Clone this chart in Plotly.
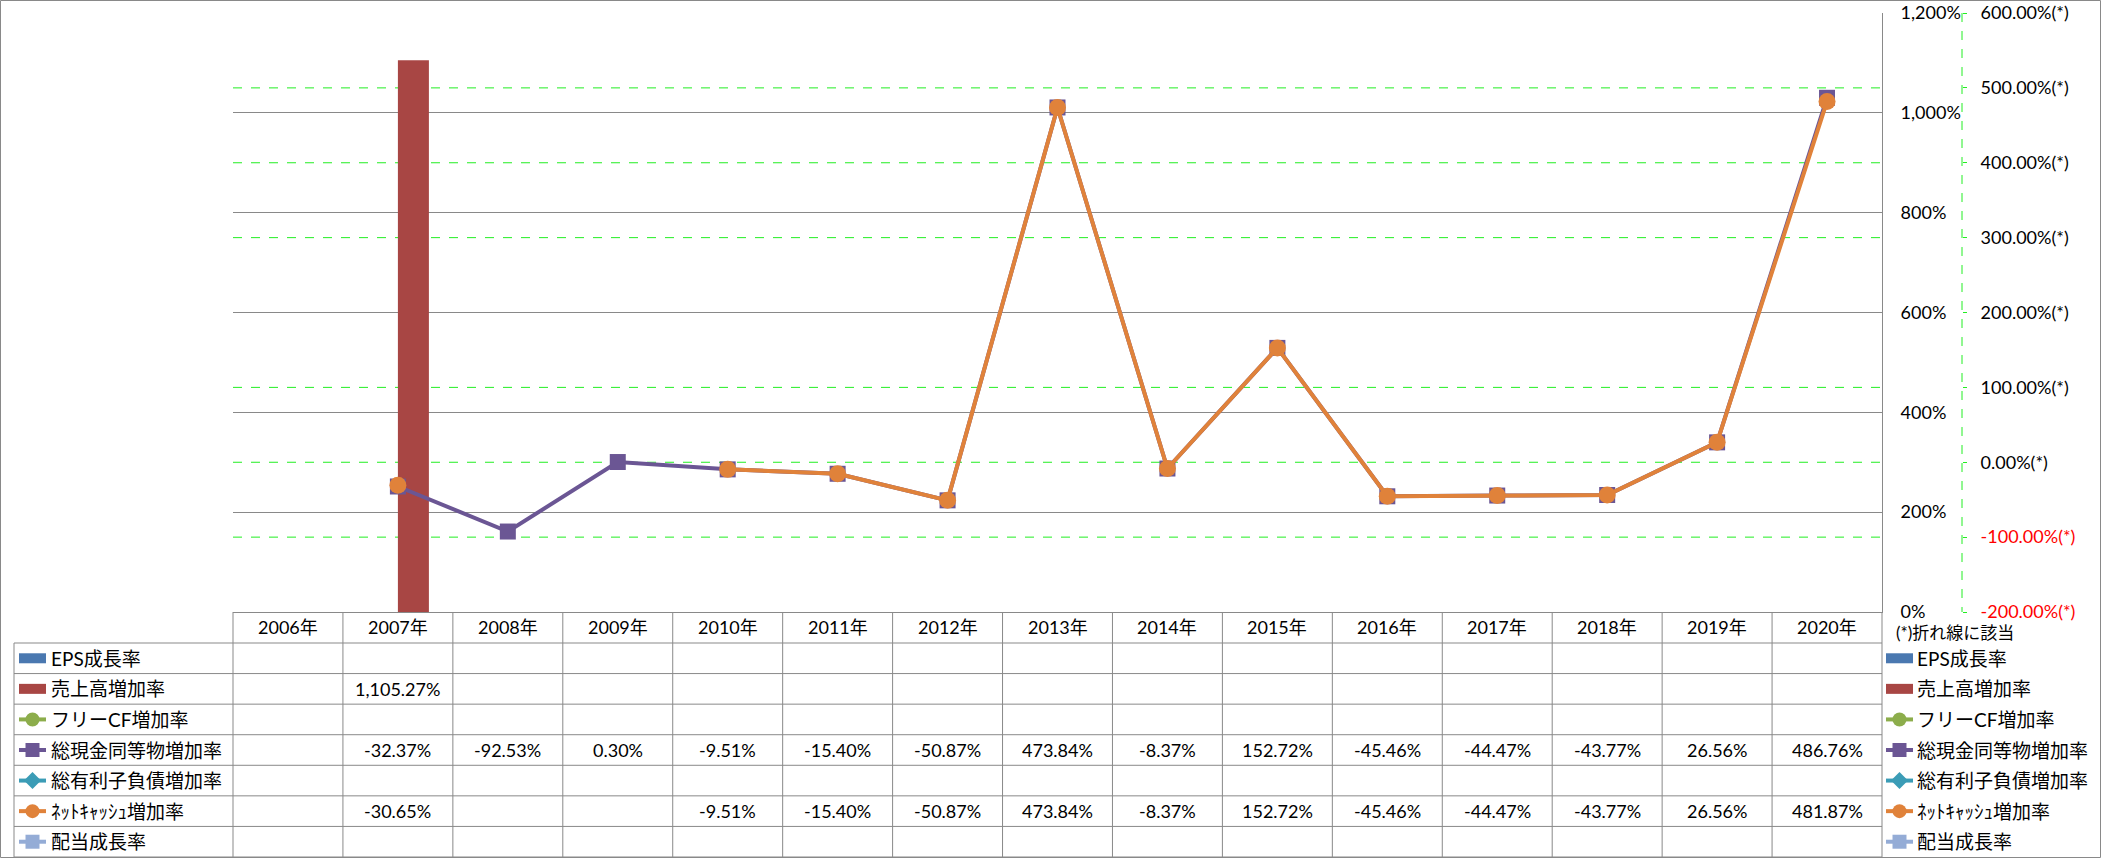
import plotly.graph_objects as go

W, H = 2101, 858

# ---------------- data ----------------
years = ["2006年", "2007年", "2008年", "2009年", "2010年", "2011年", "2012年", "2013年",
         "2014年", "2015年", "2016年", "2017年", "2018年", "2019年", "2020年"]
eps_growth = [None] * 15
sales_growth = [None, 1105.27, None, None, None, None, None, None,
                None, None, None, None, None, None, None]
fcf_growth = [None] * 15
cash_growth = [None, -32.37, -92.53, 0.30, -9.51, -15.40, -50.87, 473.84,
               -8.37, 152.72, -45.46, -44.47, -43.77, 26.56, 486.76]
debt_growth = [None] * 15
netcash_growth = [None, -30.65, None, None, -9.51, -15.40, -50.87, 473.84,
                  -8.37, 152.72, -45.46, -44.47, -43.77, 26.56, 481.87]
div_growth = [None] * 15

series_names = ["EPS成長率", "売上高増加率", "フリーCF増加率", "総現金同等物増加率",
                "総有利子負債増加率", "ﾈｯﾄｷｬｯｼｭ増加率", "配当成長率"]
series_values = [eps_growth, sales_growth, fcf_growth, cash_growth,
                 debt_growth, netcash_growth, div_growth]

y1_tickvals = [0, 200, 400, 600, 800, 1000, 1200]
y1_ticktext = ["0%", "200%", "400%", "600%", "800%", "1,000%", "1,200%"]
y2_tickvals = [-200, -100, 0, 100, 200, 300, 400, 500, 600]
y2_ticktext = ["-200.00%(*)", "-100.00%(*)", "0.00%(*)", "100.00%(*)", "200.00%(*)",
               "300.00%(*)", "400.00%(*)", "500.00%(*)", "600.00%(*)"]
note_text = "(*)折れ線に該当"

# ---------------- styles ----------------
FONT = "Lato, 'Noto Sans CJK JP', sans-serif"
GRAY = "#898989"
GREEN_GRID = "#22EE22"
colors = ["#4A78B0", "#A84644", "#8CAD4B", "#6B5694", "#3B9CB6", "#E0823A", "#94ACD6"]
kinds = ["bar", "bar", "circle", "square", "diamond", "circle", "square"]

def px(x):
    return x / W

def py(y):
    return 1 - y / H

X0, X1 = 233, 1882
Y_TOP, Y_BOT = 13, 612
ncat = len(years)
cw = (X1 - X0) / ncat

fig = go.Figure()

# bars (primary axis)
bar_w = 31 / cw
fig.add_trace(go.Bar(x=years, y=eps_growth, name=series_names[0], marker_color=colors[0],
                     width=bar_w, offset=-bar_w, yaxis="y", showlegend=False))
fig.add_trace(go.Bar(x=years, y=sales_growth, name=series_names[1], marker_color=colors[1],
                     width=bar_w, offset=0, yaxis="y", showlegend=False))

# lines (secondary axis)
line_specs = [(2, fcf_growth, "circle", 16), (3, cash_growth, "square", 16),
              (4, debt_growth, "diamond", 17), (5, netcash_growth, "circle", 17),
              (6, div_growth, "square", 16)]
for idx, vals, sym, size in line_specs:
    fig.add_trace(go.Scatter(x=years, y=vals, name=series_names[idx], yaxis="y2",
                             mode="lines+markers", connectgaps=False,
                             line=dict(color=colors[idx], width=4),
                             marker=dict(symbol=sym, size=size, color=colors[idx]),
                             showlegend=False))

shapes = []
annotations = []

# secondary-axis gridlines (green dashed), drawn beneath the primary gray gridlines
for v in y2_tickvals[1:-1]:
    shapes.append(dict(type="line", xref="x domain", yref="y2", x0=0, x1=1, y0=v, y1=v,
                       layer="below", line=dict(color=GREEN_GRID, width=1, dash="dash")))

# chart border
shapes.append(dict(type="rect", xref="paper", yref="paper", x0=px(0.5), x1=px(2100.5),
                   y0=py(0.5), y1=py(857.5), line=dict(color=GRAY, width=1)))

# secondary axis dashed line
shapes.append(dict(type="line", xref="paper", yref="paper", x0=px(1962), x1=px(1962),
                   y0=py(Y_TOP), y1=py(Y_BOT), line=dict(color=GREEN_GRID, width=1, dash="dash")))

# table grid
row_top = 643
row_h = (857 - row_top) / 7
for i in range(8):
    yy = row_top + i * row_h
    shapes.append(dict(type="line", xref="paper", yref="paper", x0=px(14), x1=px(X1),
                       y0=py(yy), y1=py(yy), line=dict(color=GRAY, width=1)))
shapes.append(dict(type="line", xref="paper", yref="paper", x0=px(14), x1=px(14),
                   y0=py(row_top), y1=py(857), line=dict(color=GRAY, width=1)))
for k in range(ncat + 1):
    xx = X0 + k * cw
    shapes.append(dict(type="line", xref="paper", yref="paper", x0=px(xx), x1=px(xx),
                       y0=py(Y_BOT), y1=py(857), line=dict(color=GRAY, width=1)))

# header year labels
for yr in years:
    annotations.append(dict(x=yr, xref="x", y=py(627), yref="paper", text=yr,
                            showarrow=False, xanchor="center", yanchor="middle",
                            font=dict(size=18, color="#000000", family=FONT)))

# table values
for i, vals in enumerate(series_values):
    cy = row_top + (i + 0.5) * row_h
    for yr, v in zip(years, vals):
        if v is None:
            continue
        annotations.append(dict(x=yr, xref="x", y=py(cy), yref="paper",
                                text=f"{v:,.2f}%", showarrow=False,
                                xanchor="center", yanchor="middle",
                                font=dict(size=18, color="#000000", family=FONT)))


def legend_key(xl, xr, cy, kind, color):
    if kind == "bar":
        shapes.append(dict(type="rect", xref="paper", yref="paper", x0=px(xl), x1=px(xr),
                           y0=py(cy + 5), y1=py(cy - 5), line=dict(width=0), fillcolor=color))
        return
    shapes.append(dict(type="line", xref="paper", yref="paper", x0=px(xl), x1=px(xr),
                       y0=py(cy), y1=py(cy), line=dict(color=color, width=4)))
    cx = (xl + xr) / 2
    r = 7
    if kind == "circle":
        shapes.append(dict(type="circle", xref="paper", yref="paper", x0=px(cx - r), x1=px(cx + r),
                           y0=py(cy + r), y1=py(cy - r), line=dict(width=0), fillcolor=color))
    elif kind == "square":
        shapes.append(dict(type="rect", xref="paper", yref="paper", x0=px(cx - r), x1=px(cx + r),
                           y0=py(cy + r), y1=py(cy - r), line=dict(width=0), fillcolor=color))
    else:
        r = 8.5
        path = (f"M {px(cx - r)} {py(cy)} L {px(cx)} {py(cy - r)} "
                f"L {px(cx + r)} {py(cy)} L {px(cx)} {py(cy + r)} Z")
        shapes.append(dict(type="path", xref="paper", yref="paper", path=path,
                           line=dict(width=0), fillcolor=color))


for i, name in enumerate(series_names):
    cy = row_top + (i + 0.5) * row_h
    legend_key(19, 46, cy, kinds[i], colors[i])
    annotations.append(dict(x=px(49), xref="paper", y=py(cy), yref="paper", text=name,
                            showarrow=False, xanchor="left", yanchor="middle",
                            font=dict(size=19, color="#000000", family=FONT)))
    legend_key(1886, 1913, cy, kinds[i], colors[i])
    annotations.append(dict(x=px(1915), xref="paper", y=py(cy), yref="paper", text=name,
                            showarrow=False, xanchor="left", yanchor="middle",
                            font=dict(size=19, color="#000000", family=FONT)))

annotations.append(dict(x=px(1894), xref="paper", y=py(632), yref="paper", text=note_text,
                        showarrow=False, xanchor="left", yanchor="middle",
                        font=dict(size=17, color="#000000", family=FONT)))

y2_text = [(f"<span style='color:#FF0000'>{t}</span>" if v < 0 else t)
           for v, t in zip(y2_tickvals, y2_ticktext)]

fig.update_layout(
    template="none",
    width=W, height=H,
    margin=dict(l=0, r=0, t=0, b=0, pad=0),
    paper_bgcolor="#FFFFFF", plot_bgcolor="rgba(0,0,0,0)",
    font=dict(family=FONT, size=18, color="#000000"),
    barmode="overlay",
    showlegend=False,
    xaxis=dict(domain=[px(X0), px(X1)], type="category", categoryorder="array",
               categoryarray=years, range=[-0.5, ncat - 0.5], showgrid=False,
               showticklabels=False, ticks="", showline=True, linecolor=GRAY, linewidth=1,
               zeroline=False, fixedrange=True, automargin=False),
    yaxis=dict(domain=[py(Y_BOT), py(Y_TOP)], range=[0, 1200], side="right",
               tickvals=y1_tickvals, ticktext=y1_ticktext, showgrid=True,
               gridcolor=GRAY, gridwidth=1, showline=True, linecolor=GRAY, linewidth=1,
               zeroline=False, ticks="", ticklabelstandoff=14, automargin=False,
               tickfont=dict(size=18, color="#000000", family=FONT)),
    yaxis2=dict(overlaying="y", anchor="free", position=px(1962), side="right",
                range=[-200, 600], tickvals=y2_tickvals, ticktext=y2_text,
                showgrid=False, showline=False, zeroline=False, ticks="outside", ticklen=4,
                tickcolor=GREEN_GRID, ticklabelstandoff=10, automargin=False,
                tickfont=dict(size=18, color="#000000", family=FONT)),
    shapes=shapes,
    annotations=annotations,
)

fig.write_html("out.html")
